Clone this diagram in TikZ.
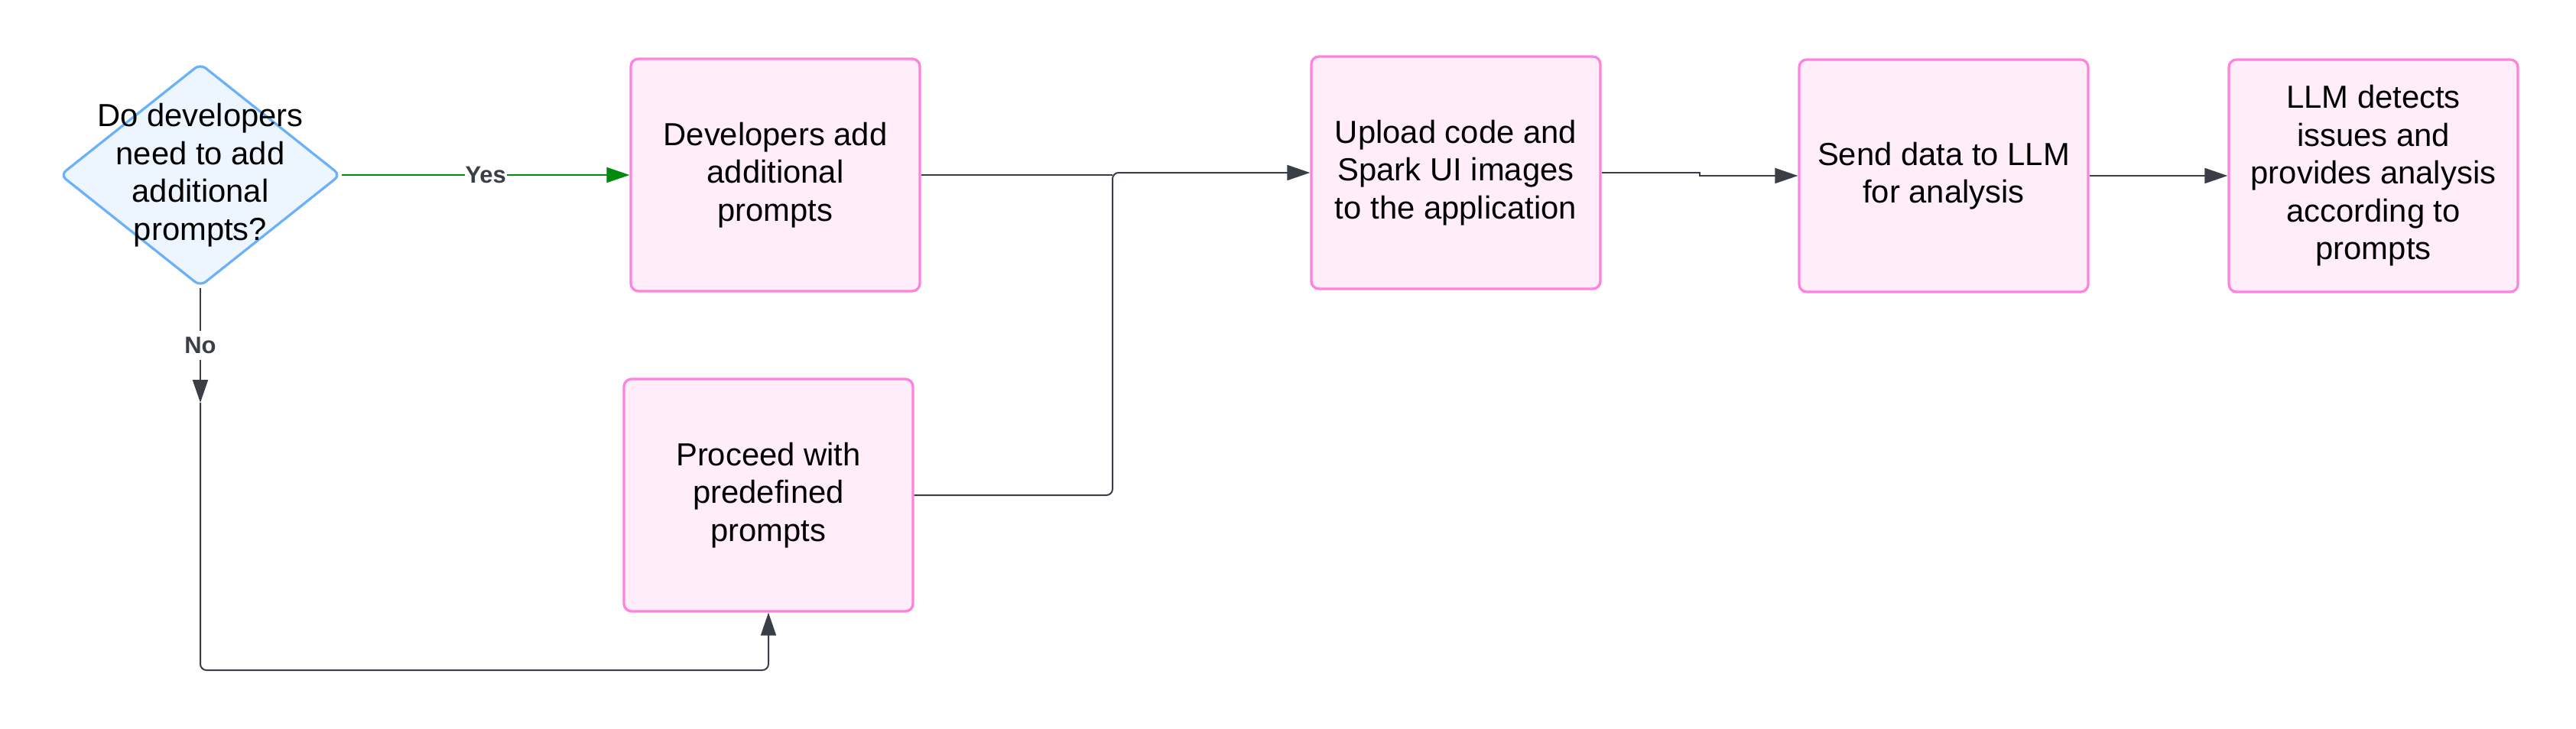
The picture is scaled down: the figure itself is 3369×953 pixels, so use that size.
\documentclass[tikz,border=0pt]{standalone}
\usepackage{fontspec}
\setmainfont{Liberation Sans}
\usetikzlibrary{shapes.geometric,arrows.meta,calc}
\definecolor{pinkline}{HTML}{FF82DE}
\definecolor{pinkfill}{HTML}{FFEEF9}
\definecolor{blueline}{HTML}{6AB0FA}
\definecolor{bluefill}{HTML}{EDF5FF}
\definecolor{conn}{HTML}{3A3F47}
\definecolor{yesgreen}{HTML}{008A0E}
\begin{document}
\begin{tikzpicture}[x=1pt,y=-1pt,
  stepbox/.style={draw=pinkline, fill=pinkfill, line width=3.3pt, rounded corners=10pt,
    minimum width=378pt, minimum height=304pt, inner sep=0pt,
    align=center, font=\fontsize{41.8}{49.5}\selectfont, text=black},
  decbox/.style={diamond, draw=blueline, fill=bluefill, line width=3.2pt, rounded corners=9pt,
    minimum width=367pt, minimum height=292pt, inner sep=0pt},
  dectext/.style={align=center, font=\fontsize{41.8}{49.5}\selectfont, text=black, inner sep=0pt},
  tip/.style={-{Triangle[length=30pt,width=20pt]}},
  conline/.style={draw=conn, line width=2pt},
  yesline/.style={draw=yesgreen, line width=2pt},
  lbl/.style={fill=white, text=conn, font=\bfseries\fontsize{31}{36}\selectfont, inner xsep=1pt, inner ysep=8pt}
]
\useasboundingbox (0,0) rectangle (3369,953);

\node[decbox] (d) at (262,229) {};
\node[dectext] (dt) at (d.center) {Do developers\\need to add\\additional\\prompts?};

\node[stepbox] (b1) at (1014,229) {Developers add\\additional\\prompts};
\node[stepbox] (b2) at (1005,648) {Proceed with\\predefined\\prompts};
\node[stepbox] (b3) at (1904,226) {Upload code and\\Spark UI images\\to the application};
\node[stepbox] (b4) at (2542,230) {Send data to LLM\\for analysis};
\node[stepbox] (b5) at (3104,230) {LLM detects\\issues and\\provides analysis\\according to\\prompts};

\coordinate (nomid) at (262,527);
\coordinate (nb) at (262,877);
\coordinate (j) at (1455,226);
\coordinate (k) at (2223,230);

% Yes
\draw[yesline, -{Triangle[length=30pt,width=20pt,fill=yesgreen]}] (d.east) -- node[lbl] {Yes} (b1.west);
% No
\draw[conline, tip] (d.south) -- node[lbl] {No} (nomid);
\draw[conline, tip, rounded corners=8pt] (nomid) -- (nb) -| (b2.south);
% into upload
\draw[conline] (b1.east) -- (b1.east -| j);
\draw[conline, tip, rounded corners=8pt] (b2.east) -| (j) -- (b3.west);
% upload -> send
\draw[conline, tip] (b3.east) -| (k) -- (b4.west);
% send -> detects
\draw[conline, tip] (b4.east) -- (b5.west);
\end{tikzpicture}
\end{document}
